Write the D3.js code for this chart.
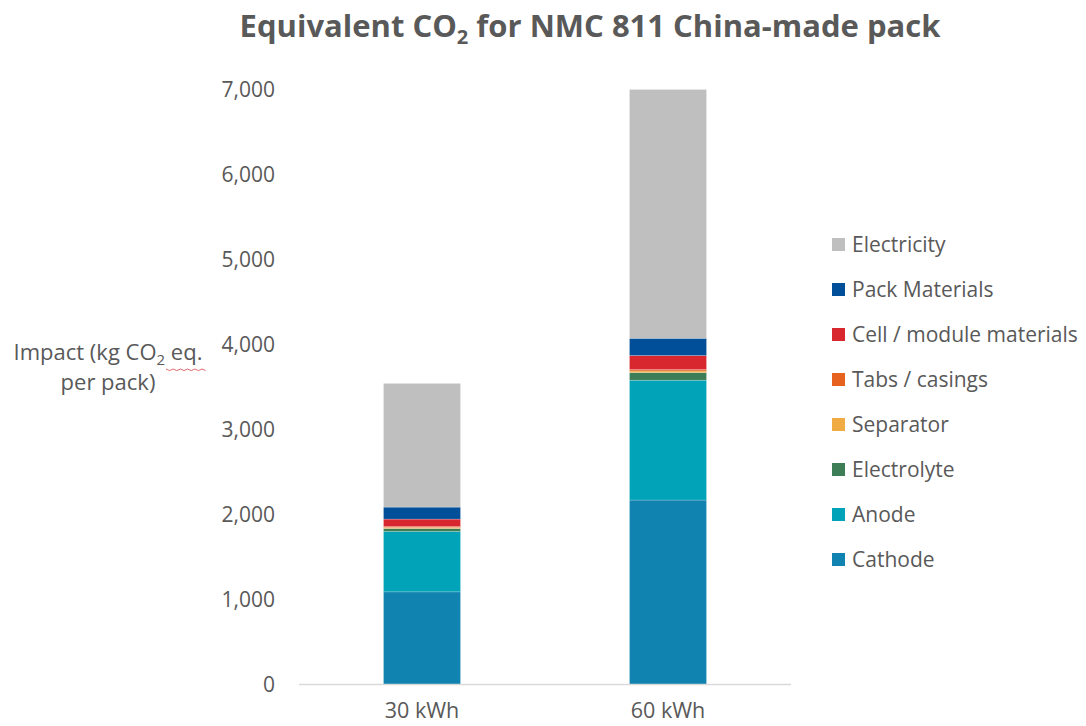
<!DOCTYPE html>
<html>
<head>
<meta charset="utf-8">
<script src="https://cdn.jsdelivr.net/npm/d3@7/dist/d3.min.js"></script>
<style>
  html, body { margin: 0; padding: 0; background: #ffffff; }
  svg { display: block; font-family: "Open Sans", Lato, sans-serif; }
</style>
</head>
<body>
<svg id="chart" width="1086" height="726"></svg>
<script>
// Pack sizes on the x axis
const categories = ["30 kWh", "60 kWh"];

// Emission sources, stacked bottom to top
const seriesNames = ["Cathode", "Anode", "Electrolyte", "Separator", "Tabs / casings",
                     "Cell / module materials", "Pack Materials", "Electricity"];

// kg CO2 eq. per pack, one value per pack size
const cathode      = [1090, 2170];
const anode        = [710, 1410];
const electrolyte  = [35, 90];
const separator    = [13, 19];
const tabsCasings  = [10, 16];
const cellModule   = [88, 165];
const packMaterials = [141, 203];
const electricity  = [1455, 2927];

const yTicks = [0, 1000, 2000, 3000, 4000, 5000, 6000, 7000];

const seriesColors = ["#1083b0", "#00a3b8", "#3e7e56", "#f0ab42", "#e8621f",
                      "#d9272f", "#004f98", "#bfbfbf"];

const seriesValues = [cathode, anode, electrolyte, separator, tabsCasings,
                      cellModule, packMaterials, electricity];

const rows = categories.map((c, i) => {
  const r = { category: c };
  seriesNames.forEach((s, k) => { r[s] = seriesValues[k][i]; });
  return r;
});

const svg = d3.select("#chart");
const textColor = "#595959";
const font = "'Open Sans', sans-serif";
const labelSize = 21;

const x = d3.scaleBand()
  .domain(categories)
  .range([299, 791])
  .paddingInner(0.687)
  .paddingOuter(0.3435);

const y = d3.scaleLinear()
  .domain([0, 7000])
  .range([684.5, 89.5]);

const stack = d3.stack().keys(seriesNames);
const layers = stack(rows);

// Stacked bars
svg.append("g")
  .selectAll("g")
  .data(layers)
  .join("g")
  .attr("fill", (d, i) => seriesColors[i])
  .selectAll("rect")
  .data(d => d)
  .join("rect")
  .attr("x", d => x(d.data.category))
  .attr("width", x.bandwidth())
  .attr("y", d => y(d[1]))
  .attr("height", d => y(d[0]) - y(d[1]))
  .attr("stroke", "rgba(255,255,255,0.35)")
  .attr("stroke-width", 0.6);

// Baseline of the category axis
svg.append("line")
  .attr("x1", 299).attr("x2", 791)
  .attr("y1", y(0)).attr("y2", y(0))
  .attr("stroke", "#d9d9d9")
  .attr("stroke-width", 1.3);

// Y axis labels
const yAxis = d3.axisLeft(y)
  .tickValues(yTicks)
  .tickFormat(d3.format(","))
  .tickSize(0)
  .tickPadding(0);

const yg = svg.append("g")
  .attr("transform", "translate(275,0)")
  .call(yAxis);
yg.select(".domain").remove();
yg.selectAll("text")
  .attr("fill", textColor)
  .attr("font-size", labelSize)
  .attr("font-family", font)
  .attr("dy", "0.35em");

// X axis labels
const xAxis = d3.axisBottom(x).tickSize(0).tickPadding(0);
const xg = svg.append("g")
  .attr("transform", "translate(0,718)")
  .call(xAxis);
xg.select(".domain").remove();
xg.selectAll("text")
  .attr("fill", textColor)
  .attr("font-size", 21.5)
  .attr("font-family", font)
  .attr("dy", 0);

// Title
const title = svg.append("text")
  .attr("x", 590)
  .attr("y", 37)
  .attr("text-anchor", "middle")
  .attr("fill", textColor)
  .attr("font-size", 31)
  .attr("font-weight", "bold");
title.append("tspan").text("Equivalent CO");
title.append("tspan").text("2").attr("font-size", 20).attr("dy", 7);
title.append("tspan").text(" for NMC 811 China-made pack").attr("dy", -7);

// Y axis title, two lines
const yTitle = svg.append("text")
  .attr("text-anchor", "middle")
  .attr("fill", textColor)
  .attr("font-size", 22);
const l1 = yTitle.append("tspan").attr("x", 108).attr("y", 360);
l1.append("tspan").text("Impact (kg CO");
l1.append("tspan").text("2").attr("font-size", 15).attr("dy", 5);
l1.append("tspan").text(" eq.").attr("dy", -5);
yTitle.append("tspan").attr("x", 108).attr("y", 390).text("per pack)");

// Wavy proofing mark under "eq."
const wave = d3.range(0, 12).map(i => [166 + i * 3.6, 369 + (i % 2 === 0 ? 0 : 1.6)]);
svg.append("path")
  .attr("d", d3.line()(wave))
  .attr("fill", "none")
  .attr("stroke", "#e0595e")
  .attr("stroke-width", 0.9);

// Legend, top entry is the top of the stack
const legendItems = seriesNames.slice().reverse();
const legendColors = seriesColors.slice().reverse();
const legend = svg.append("g");
const lg = legend.selectAll("g")
  .data(legendItems)
  .join("g")
  .attr("transform", (d, i) => `translate(832, ${245 + i * 45})`);
lg.append("rect")
  .attr("x", 0).attr("y", -7)
  .attr("width", 13).attr("height", 13)
  .attr("fill", (d, i) => legendColors[i]);
lg.append("text")
  .attr("x", 20)
  .attr("y", 0)
  .attr("dy", "0.35em")
  .attr("fill", textColor)
  .attr("font-size", labelSize)
  .text(d => d);
</script>
</body>
</html>
